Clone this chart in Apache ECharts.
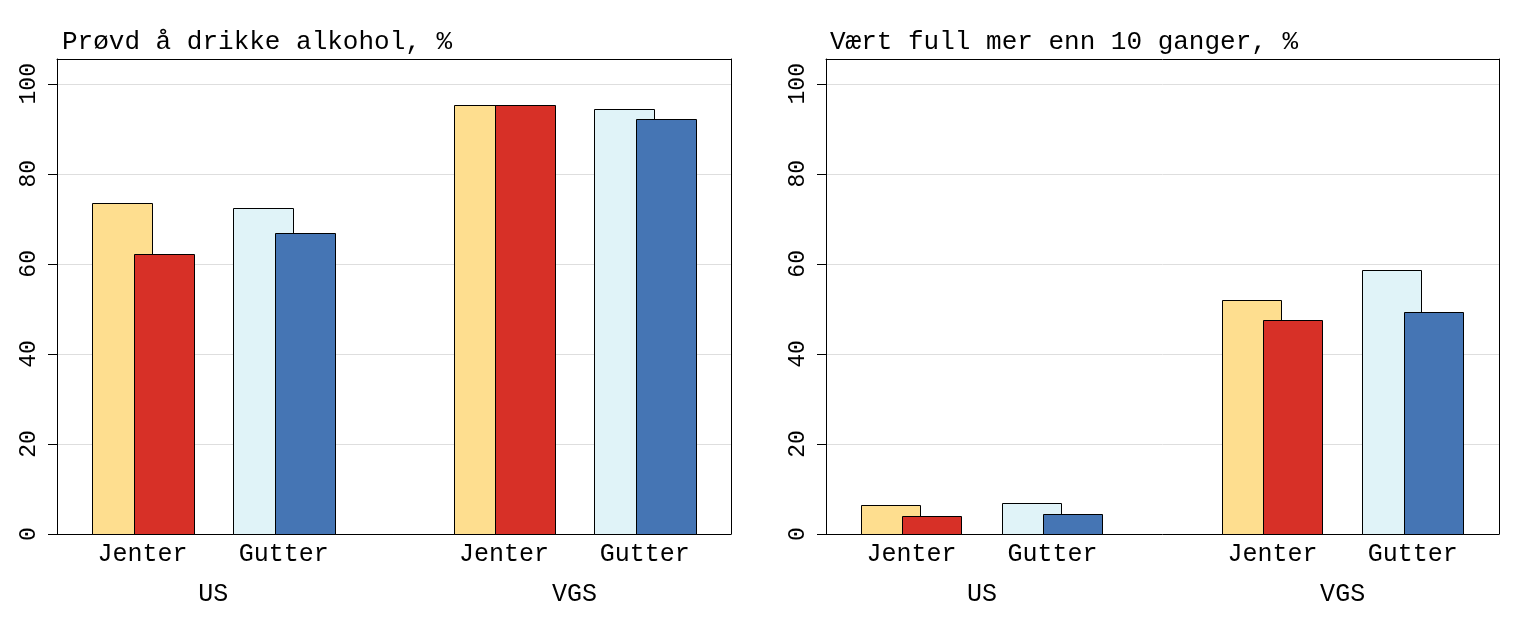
<!DOCTYPE html>
<html>
<head>
<meta charset="utf-8">
<script src="https://cdn.jsdelivr.net/npm/echarts@6/dist/echarts.min.js"></script>
<style>html,body{margin:0;padding:0;background:#fff;}#c{width:1538px;height:626px;}</style>
</head>
<body>
<div id="c"></div>
<script>
// ---- data ----
const panelTitles = ['Prøvd å drikke alkohol, %', 'Vært full mer enn 10 ganger, %'];
const groups = ['US', 'VGS'];
const sexes = ['Jenter', 'Gutter'];
const yTicks = [0, 20, 40, 60, 80, 100];
// panel 1: Prøvd å drikke alkohol
const alkJenterA = [73.5, 95.3];
const alkJenterB = [62.2, 95.3];
const alkGutterA = [72.4, 94.4];
const alkGutterB = [66.8, 92.2];
// panel 2: Vært full mer enn 10 ganger
const fullJenterA = [6.4, 51.9];
const fullJenterB = [3.9, 47.5];
const fullGutterA = [6.8, 58.6];
const fullGutterB = [4.4, 49.3];

// ---- layout / style ----
const colors = { JA: '#fede8f', JB: '#d73027', GA: '#e0f3f8', GB: '#4575b4' };
const FONT = '"Liberation Mono", "Courier New", monospace';
// pair centres as % of plot width
const pairCentre = [[12.70, 33.65], [66.33, 87.20]]; // [group][sex]
const barW = 8.83, barOff = 3.08;
const YMAX = 105.5;

const el = document.getElementById('c');
const chart = echarts.init(el, null, { renderer: 'canvas' });

const panels = [
  [alkJenterA, alkJenterB, alkGutterA, alkGutterB],
  [fullJenterA, fullJenterB, fullGutterA, fullGutterB]
];
const keys = ['JA', 'JB', 'GA', 'GB'];

const grids = [
  { left: 57, right: 807, top: 59, bottom: 92 },
  { left: 826, right: 39, top: 59, bottom: 92 }
].map(g => Object.assign(g, { show: false, containLabel: false }));

const sexCentres = pairCentre.flat();
const groupCentres = pairCentre.map(p => (p[0] + p[1]) / 2);
const blackLine = { show: true, onZero: false, lineStyle: { color: '#000', width: 1 } };

const xAxes = [], yAxes = [], series = [];
[0, 1].forEach(pi => {
  xAxes.push({
    gridIndex: pi, type: 'value', min: 0, max: 100, position: 'bottom',
    axisLine: blackLine, axisTick: { show: false }, splitLine: { show: false },
    axisLabel: {
      customValues: sexCentres, margin: 8,
      formatter: v => { const i = sexCentres.findIndex(c => Math.abs(c - v) < 0.01); return i < 0 ? '' : sexes[i % 2]; },
      fontFamily: FONT, fontSize: 25, color: '#000'
    }
  });
  xAxes.push({
    gridIndex: pi, type: 'value', min: 0, max: 100, position: 'bottom', offset: 40,
    axisLine: { show: false }, axisTick: { show: false }, splitLine: { show: false },
    axisLabel: {
      customValues: groupCentres, margin: 8,
      formatter: v => { const i = groupCentres.findIndex(c => Math.abs(c - v) < 0.01); return i < 0 ? '' : groups[i]; },
      fontFamily: FONT, fontSize: 25, color: '#000'
    }
  });
  xAxes.push({
    gridIndex: pi, type: 'value', min: 0, max: 100, position: 'top',
    axisLine: blackLine, axisTick: { show: false }, splitLine: { show: false }, axisLabel: { show: false }
  });
  yAxes.push({
    gridIndex: pi, type: 'value', min: 0, max: YMAX, interval: 20, position: 'left',
    axisLine: blackLine,
    axisTick: { show: true, length: 9, lineStyle: { color: '#000' }, customValues: yTicks },
    splitLine: { show: true, lineStyle: { color: '#dedede', width: 1 } },
    axisLabel: {
      customValues: yTicks, rotate: 90, margin: 17,
      fontFamily: FONT, fontSize: 23, color: '#000'
    }
  });
  yAxes.push({
    gridIndex: pi, type: 'value', min: 0, max: YMAX, position: 'right',
    axisLine: blackLine, axisTick: { show: false }, splitLine: { show: false }, axisLabel: { show: false }
  });
  panels[pi].forEach((vals, si) => {
    const sex = si < 2 ? 0 : 1;
    const off = (si % 2 === 0) ? -barOff : barOff;
    const data = vals.map((v, gi) => [pairCentre[gi][sex] + off, v]);
    series.push({
      type: 'custom', name: keys[si], xAxisIndex: pi * 3, yAxisIndex: pi * 2,
      data: data, z: 2 + si,
      renderItem: (params, api) => {
        const x = api.value(0), y = api.value(1);
        const p0 = api.coord([x - barW / 2, y]);
        const p1 = api.coord([x + barW / 2, 0]);
        return {
          type: 'rect',
          shape: { x: Math.round(p0[0]) + 0.5, y: Math.round(p0[1]) + 0.5, width: Math.round(p1[0] - p0[0]), height: Math.round(p1[1]) - Math.round(p0[1]) },
          style: { fill: colors[keys[si]], stroke: '#000', lineWidth: 1 }
        };
      }
    });
  });
});

chart.setOption({
  animation: false,
  backgroundColor: '#fff',
  title: [
    { text: panelTitles[0], left: 57, top: 24, textStyle: { fontFamily: FONT, fontSize: 26, fontWeight: 'normal', color: '#000' } },
    { text: panelTitles[1], left: 825, top: 24, textStyle: { fontFamily: FONT, fontSize: 26, fontWeight: 'normal', color: '#000' } }
  ],
  grid: grids,
  xAxis: xAxes,
  yAxis: yAxes,
  series: series
});
</script>
</body>
</html>
